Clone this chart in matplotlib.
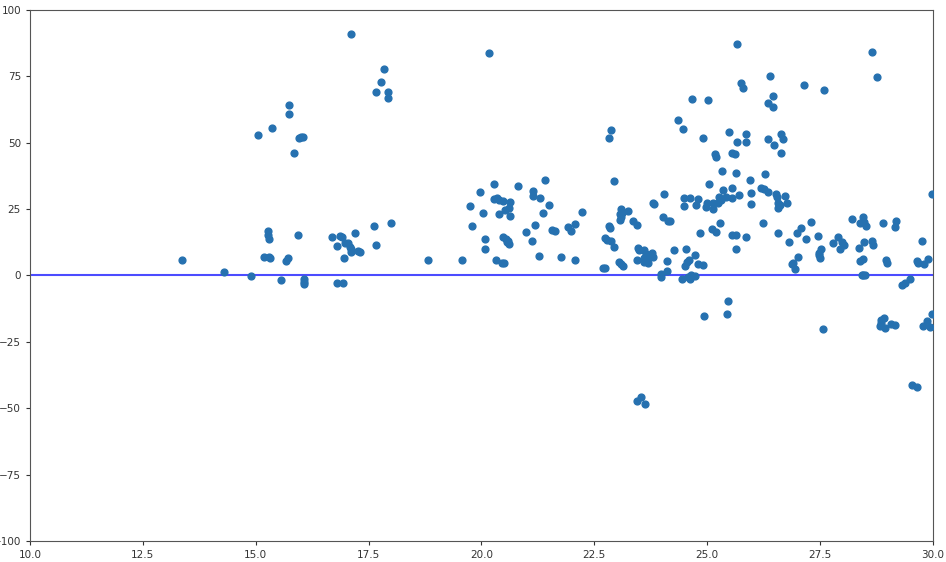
import matplotlib
matplotlib.use("Agg")
import matplotlib.pyplot as plt

x_vals = [
    13.36, 14.30, 14.89, 17.11, 17.85, 17.77, 17.66, 17.94, 17.94, 15.74, 15.74, 15.35, 15.06,
    15.96, 16.00, 16.04, 15.85, 15.27, 15.27, 15.29, 15.93, 15.18, 15.30, 15.32, 15.66, 15.72,
    15.56, 16.08, 16.08, 16.08, 16.81, 16.93, 16.69, 16.87, 16.90, 17.20, 16.79, 16.98, 17.05,
    17.09, 17.10, 17.12, 17.27, 17.31, 16.95, 17.62, 17.66, 18.00,
    18.82, 19.57, 20.16, 20.28, 19.97, 19.75, 20.03, 19.80, 20.08, 20.08, 20.28, 20.35, 20.39,
    20.48, 20.63, 20.38, 20.52, 20.62, 20.63, 20.48, 20.55, 20.59, 20.62, 20.56, 20.32, 20.45,
    20.49, 20.80, 21.14, 21.14, 21.41, 21.30, 21.49, 21.37, 21.18, 20.98, 21.12, 21.57, 21.62,
    21.28, 21.77, 21.91, 21.98, 22.08, 22.08, 22.23,
    22.87, 22.83, 22.93, 22.70, 22.74, 22.73, 22.77, 22.87, 22.94, 22.83, 22.85, 23.10, 23.06,
    23.08, 23.07, 23.12, 23.24, 23.35, 23.44, 23.05, 23.10, 23.13, 23.80, 23.82, 24.05, 24.02,
    24.14, 24.17, 23.47, 23.49, 23.61, 23.64, 23.68, 23.61, 23.65, 23.78, 23.81, 23.69, 23.45,
    23.59, 23.98, 23.97, 24.12, 24.10, 24.26, 24.52, 24.73, 24.60, 24.56, 24.51, 24.45, 24.58,
    24.62, 24.74, 24.64, 24.80, 24.90, 24.83, 24.49, 24.62, 24.79, 24.49, 24.75, 24.99, 24.98,
    25.04, 24.66, 25.02, 24.35, 24.46, 24.91, 23.53, 23.45, 23.63,
    25.65, 26.39, 25.75, 25.80, 26.46, 26.35, 26.46, 27.14, 25.49, 25.67, 25.86, 25.87, 26.35,
    26.48, 26.64, 26.67, 26.64, 25.18, 25.20, 25.54, 25.61, 25.33, 25.64, 25.95, 26.27, 25.34,
    25.54, 25.70, 25.98, 26.20, 26.26, 26.34, 26.52, 26.54, 26.72, 25.27, 25.30, 25.42, 25.55,
    25.12, 25.13, 25.24, 25.98, 26.57, 26.56, 26.62, 26.77, 26.23, 25.28, 25.11, 25.19, 25.55,
    25.64, 25.86, 26.56, 25.63, 26.82, 26.98, 27.08, 27.29, 27.19, 27.46, 27.02, 26.91, 26.88,
    26.94, 27.48, 25.46, 25.43, 24.93,
    28.65, 28.76, 27.59, 29.98, 28.21, 28.46, 28.39, 28.48, 28.51, 28.89, 29.19, 29.15, 27.90,
    27.99, 28.04, 27.78, 27.94, 27.53, 27.47, 27.50, 28.48, 28.65, 28.68, 28.36, 28.39, 28.46,
    28.96, 28.99, 29.65, 29.66, 29.81, 29.88, 29.75, 28.42, 28.46, 28.50, 29.32, 29.37, 29.49,
    27.57, 28.85, 28.91, 28.82, 28.94, 28.84, 29.07, 29.15, 29.78, 29.86, 29.93, 29.99, 29.53,
    29.64,
]

y_vals = [
    5.9, 1.4, -0.2, 90.8, 77.9, 72.9, 69.2, 69.0, 67.0, 64.2, 60.8, 55.4, 52.8,
    51.7, 52.0, 52.2, 46.3, 16.6, 15.3, 13.7, 15.3, 7.0, 7.0, 6.7, 5.6, 6.6,
    -1.6, -1.4, -2.3, -3.2, -2.9, -2.9, 14.6, 14.9, 14.4, 15.9, 11.1, 12.1, 12.1,
    10.8, 9.9, 9.0, 9.3, 8.7, 6.6, 18.5, 11.6, 19.7,
    5.8, 6.0, 83.7, 34.5, 31.3, 26.1, 23.7, 18.8, 13.7, 10.1, 28.8, 29.1, 28.4,
    27.9, 27.8, 23.3, 24.6, 25.3, 22.4, 14.4, 13.6, 12.9, 11.9, 12.7, 5.8, 4.8,
    4.8, 33.8, 31.9, 30.1, 35.9, 29.1, 26.7, 23.7, 19.1, 16.5, 13.0, 17.1, 16.9,
    7.3, 7.1, 18.3, 16.6, 19.4, 5.7, 23.9,
    54.7, 51.9, 35.6, 2.8, 2.8, 14.1, 13.4, 13.0, 10.8, 18.8, 17.8, 25.2, 23.1,
    22.2, 20.9, 23.4, 24.4, 20.4, 18.9, 5.2, 4.2, 3.6, 27.4, 26.9, 30.6, 22.2,
    20.4, 20.6, 10.5, 9.6, 9.6, 8.0, 7.1, 6.5, 5.8, 8.4, 6.9, 4.6, 5.8,
    5.0, 0.6, -0.4, 1.8, 5.5, 9.5, 10.0, 7.6, 5.8, 5.2, 3.6, -1.4, -0.4,
    -1.4, -0.2, 0.2, 4.3, 4.1, 15.9, 29.1, 29.2, 28.9, 26.3, 26.4, 27.2, 25.7,
    34.5, 66.6, 66.1, 58.6, 55.2, 51.9, -45.6, -47.2, -48.4,
    87.2, 75.3, 72.4, 70.5, 67.6, 65.1, 63.4, 71.9, 54.0, 50.3, 53.2, 50.2, 51.5,
    49.2, 53.2, 51.5, 46.0, 45.6, 44.7, 46.3, 45.6, 39.4, 38.7, 36.1, 38.4, 32.2,
    33.0, 30.2, 31.0, 32.8, 32.6, 31.6, 30.7, 29.7, 30.0, 29.7, 28.4, 29.7, 29.3,
    27.2, 24.9, 27.2, 26.8, 27.4, 25.3, 26.4, 27.4, 19.9, 19.6, 17.4, 16.5, 15.3,
    15.3, 14.6, 15.9, 9.9, 12.7, 16.1, 17.8, 20.2, 13.6, 14.9, 6.9, 4.6, 4.2,
    2.3, 8.4, -9.6, -14.4, -15.3,
    84.3, 74.6, 70.0, 30.7, 21.3, 22.1, 19.7, 20.0, 18.6, 19.7, 20.6, 18.2, 14.6,
    12.7, 11.4, 12.4, 9.9, 10.1, 7.6, 6.6, 12.7, 13.1, 11.5, 10.4, 5.6, 6.2,
    5.8, 4.6, 5.3, 4.8, 4.2, 6.1, 13.1, 0.2, 0.1, 0.1, -3.7, -2.9, -1.3,
    -20.3, -16.8, -16.0, -18.9, -19.7, -18.0, -18.4, -18.6, -19.0, -17.0, -19.5, -14.6, -41.2,
    -42.0,
]

fig = plt.figure(figsize=(9.46, 5.62), dpi=100)
ax = fig.add_axes([0.0317, 0.0374, 0.9545, 0.9448])
ax.scatter(x_vals, y_vals, s=24, color="#2671b0", zorder=3)
ax.axhline(0, color="blue", alpha=0.7, linewidth=1.5, zorder=2)
ax.set_xlim(10, 30)
ax.set_ylim(-100, 100)
ax.tick_params(labelsize=7.5, colors="#333333", length=3)
for sp in ax.spines.values():
    sp.set_color("#555555")
fig.savefig("out.png", dpi=100)
